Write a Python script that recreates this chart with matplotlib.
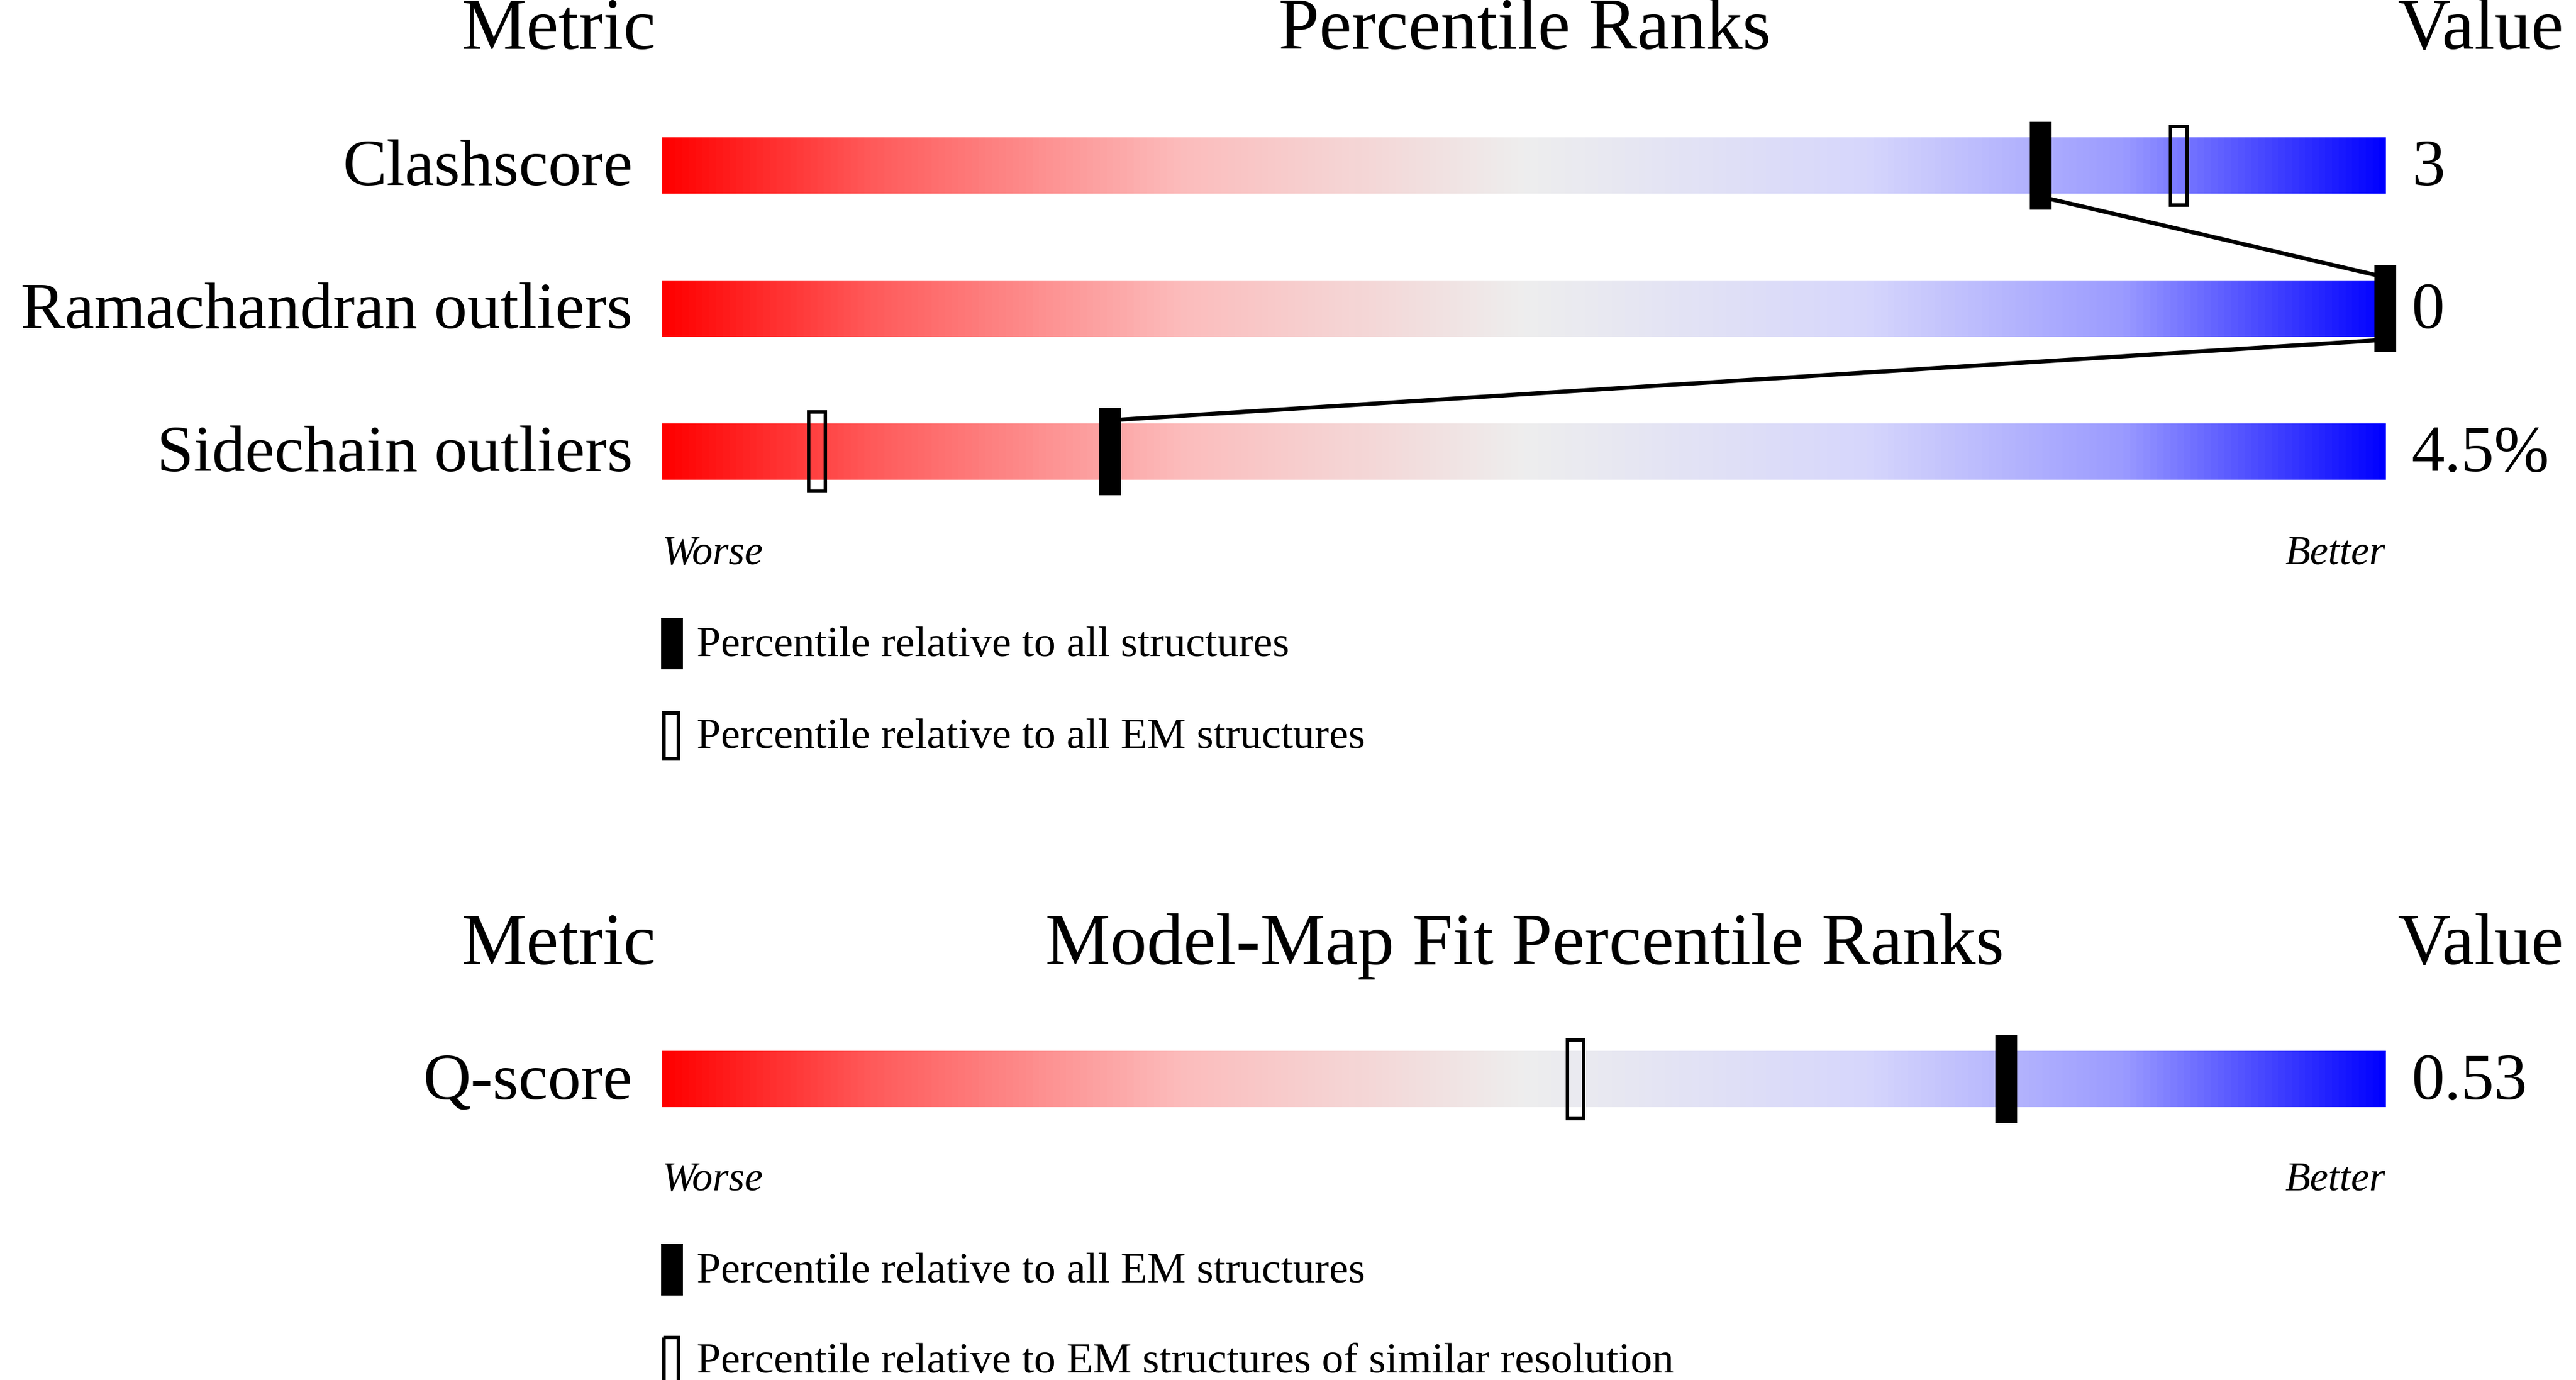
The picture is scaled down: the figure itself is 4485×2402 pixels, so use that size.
import numpy as np
import matplotlib
matplotlib.use("Agg")
import matplotlib.pyplot as plt
from matplotlib.colors import LinearSegmentedColormap
from matplotlib.patches import Rectangle

plt.rcParams['font.family'] = ['Liberation Serif', 'DejaVu Serif']

# --- datos ---
metrics_top = ["Clashscore", "Ramachandran outliers", "Sidechain outliers"]
values_top = ["3", "0", "4.5%"]
pct_all_top = [80, 100, 26]
pct_em_top = [88, 100, 9]

metrics_bot = ["Q-score"]
values_bot = ["0.53"]
pct_all_bot = [78]
pct_sim_bot = [53]

legend_top = ["Percentile relative to all structures", "Percentile relative to all EM structures"]
legend_bot = ["Percentile relative to all EM structures",
              "Percentile relative to EM structures of similar resolution"]

# coordenadas en "pixeles" de 1568x840
X0, X1 = 403, 1452
BAR_H = 34
cmap = LinearSegmentedColormap.from_list(
    "wb", [(0.0, "#ff0000"), (0.12, "#ff5a5a"), (0.3, "#fcbcbc"), (0.5, "#eeeeee"),
           (0.7, "#d6d6fc"), (0.85, "#9a9aff"), (1.0, "#0000ff")])

fig = plt.figure(figsize=(15.68, 8.40), dpi=286.04)
ax = fig.add_axes([0, 0, 1, 1])
ax.set_xlim(0, 1568)
ax.set_ylim(840, 0)
ax.axis('off')

def px(p):
    return X0 + (X1 - X0) * p / 100.0

def marker(x, yc, filled):
    if filled:
        ax.add_patch(Rectangle((x - 6, yc - 26), 12, 52, fc='black', ec='black', zorder=5))
    else:
        ax.add_patch(Rectangle((x - 5, yc - 24), 10, 48, fc='none', ec='black', lw=1.5, zorder=4))

def panel(title, y_head, rows, vals, p_fill, p_open, y_rows, y_worse, legs, y_legs):
    ax.text(340, y_head, "Metric", fontsize=32, ha='center', va='center')
    ax.text(928, y_head, title, fontsize=32, ha='center', va='center')
    ax.text(1510, y_head, "Value", fontsize=32, ha='center', va='center')
    grad = np.linspace(0, 1, 512).reshape(1, -1)
    for name, v, yc in zip(rows, vals, y_rows):
        ax.imshow(grad, cmap=cmap, extent=(X0, X1, yc + BAR_H / 2, yc - BAR_H / 2),
                  aspect='auto', zorder=1)
        ax.text(385, yc + 2, name, fontsize=29, ha='right', va='center')
        ax.text(1468, yc + 2, v, fontsize=29, ha='left', va='center')
    for po, yc in zip(p_open, y_rows):
        marker(px(po), yc, False)
    for pf, yc in zip(p_fill, y_rows):
        marker(px(pf), yc, True)
    for i in range(len(y_rows) - 1):
        ax.plot([px(p_fill[i]), px(p_fill[i + 1])], [y_rows[i] + 19, y_rows[i + 1] - 19],
                color='black', lw=1.8, zorder=3)
    ax.text(X0, y_worse, "Worse", fontsize=18, style='italic', ha='left', va='center')
    ax.text(X1, y_worse, "Better", fontsize=18, style='italic', ha='right', va='center')
    for j, (lab, yl) in enumerate(zip(legs, y_legs)):
        if j == 0:
            ax.add_patch(Rectangle((403, yl - 15), 12, 30, fc='black', ec='black'))
        else:
            ax.add_patch(Rectangle((404, yl - 14), 9, 28, fc='none', ec='black', lw=1.5))
        ax.text(424, yl + 1, lab, fontsize=19, ha='left', va='center')

panel("Percentile Ranks", 19, metrics_top, values_top, pct_all_top, pct_em_top,
      [101, 188, 275], 337, legend_top, [392, 448])
panel("Model-Map Fit Percentile Ranks", 576, metrics_bot, values_bot, pct_all_bot, pct_sim_bot,
      [657], 718, legend_bot, [773, 828])

fig.savefig("out.png", dpi=286.04, facecolor='white')
